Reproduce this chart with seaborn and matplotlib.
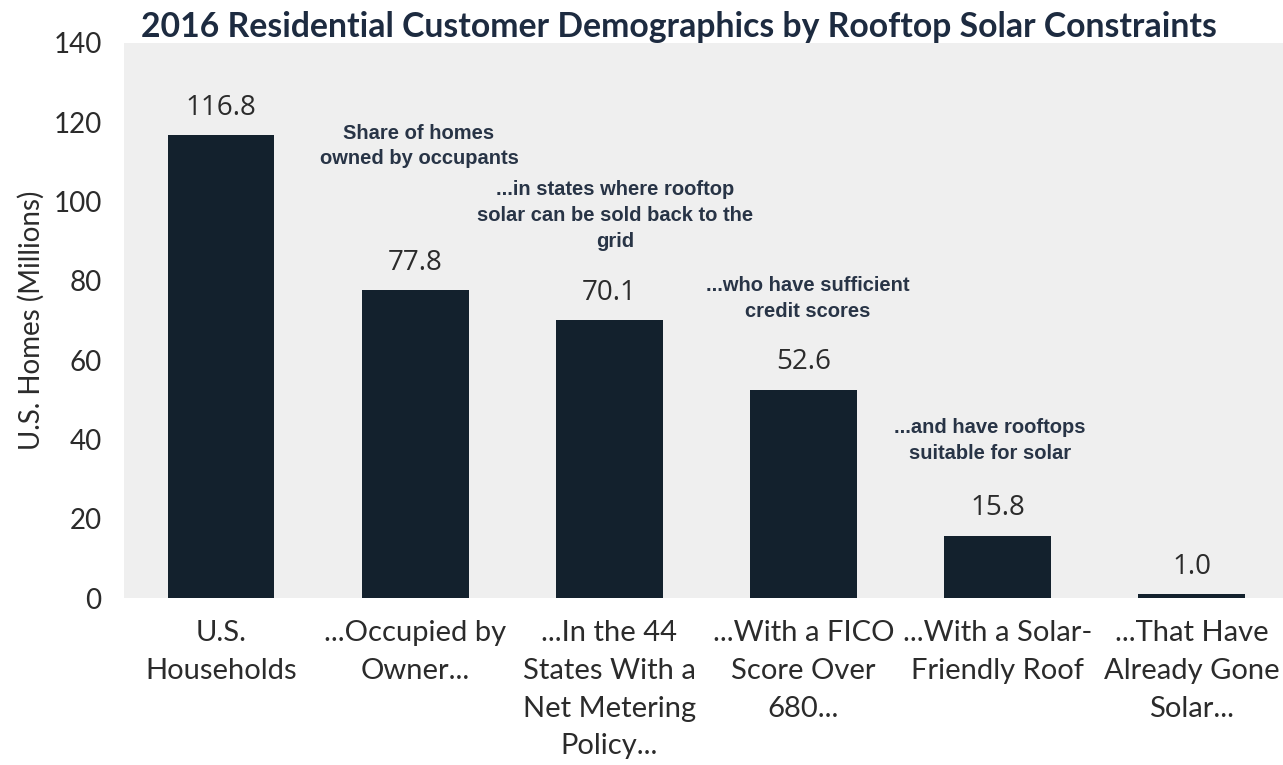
import matplotlib
matplotlib.use("Agg")
import matplotlib.pyplot as plt
import seaborn as sns
import pandas as pd

# chart data
categories = [
    "U.S.\nHouseholds",
    "...Occupied by\nOwner...",
    "...In the 44\nStates With a\nNet Metering\nPolicy...",
    "...With a FICO\nScore Over\n680...",
    "...With a Solar-\nFriendly Roof",
    "...That Have\nAlready Gone\nSolar...",
]
homes = [116.8, 77.8, 70.1, 52.6, 15.8, 1.0]
notes = [
    "Share of homes\nowned by occupants",
    "...in states where rooftop\nsolar can be sold back to the\ngrid",
    "...who have sufficient\ncredit scores",
    "...and have rooftops\nsuitable for solar",
]
note_pos = [(1.02, 114.0), (2.03, 96.5), (3.02, 75.6), (3.96, 39.8)]

BAR = "#13212d"
NAVY = "#1d2b40"
TEXT = "#2b2b2b"

sns.set_style("white")
plt.rcParams["font.family"] = ["Lato", "DejaVu Sans"]

df = pd.DataFrame({"category": categories, "homes": homes})

fig = plt.figure(figsize=(12.83, 7.65), dpi=100)
ax = fig.add_axes([0.0966, 0.218, 0.9034, 0.726])
ax.set_facecolor("#efefef")

sns.barplot(data=df, x="category", y="homes", color=BAR, width=0.55,
            saturation=1, linewidth=0, ax=ax)

for i, v in enumerate(homes):
    ax.text(i, v + 3.3, f"{v:.1f}", ha="center", va="bottom",
            fontsize=20, color=TEXT, family=["Open Sans", "DejaVu Sans"])

for (x, y), t in zip(note_pos, notes):
    ax.text(x, y, t, ha="center", va="center", fontsize=14.5,
            fontweight="bold", color="#283446", linespacing=1.45,
            family=["Liberation Sans", "DejaVu Sans"])

ax.set_ylim(0, 140)
ax.set_xlim(-0.5, 5.47)
ax.set_yticks(range(0, 141, 20))
ax.tick_params(axis="both", length=0, labelsize=20, colors=TEXT)
ax.tick_params(axis="y", pad=16)
ax.tick_params(axis="x", labelsize=21, pad=16)
for lbl in ax.get_xticklabels():
    lbl.set_linespacing(1.55)
ax.set_xlabel("")
ax.set_ylabel("U.S. Homes (Millions)", fontsize=20, color=TEXT, labelpad=6)
for s in ax.spines.values():
    s.set_visible(False)

fig.text(0.529, 0.965, "2016 Residential Customer Demographics by Rooftop Solar Constraints",
         ha="center", va="center", fontsize=24.3, fontweight="bold", color=NAVY)

fig.savefig("out.png", dpi=100)
